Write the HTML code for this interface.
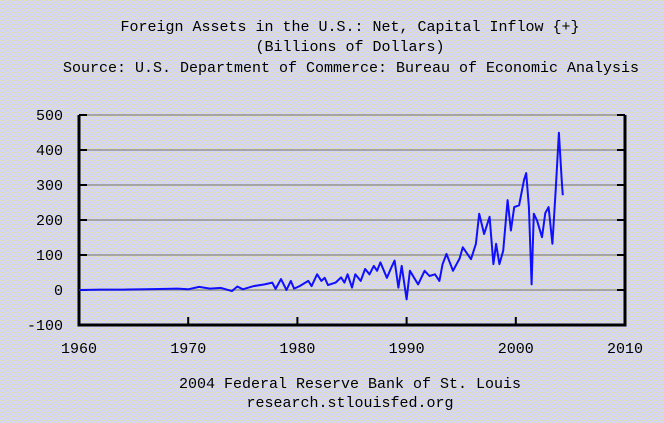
<!DOCTYPE html>
<html><head><meta charset="utf-8"><style>
body{margin:0;background:#d8d8ea}
svg{display:block;font-family:"Liberation Mono",monospace}
</style></head><body>
<svg width="664" height="423" viewBox="0 0 664 423">
<defs>
<pattern id="nz" width="6" height="4" patternUnits="userSpaceOnUse">
<rect width="6" height="4" fill="#d4d4f4"/>
<rect x="0" y="0" width="3" height="1" fill="#e2e2b0"/>
<rect x="3" y="2" width="3" height="1" fill="#e2e2b0"/>
</pattern>
</defs>
<rect width="664" height="423" fill="url(#nz)"/>
<g font-size="15" fill="#000" text-anchor="middle">
<text x="350" y="31">Foreign Assets in the U.S.: Net, Capital Inflow {+}</text>
<text x="350" y="51">(Billions of Dollars)</text>
<text x="351" y="72">Source: U.S. Department of Commerce: Bureau of Economic Analysis</text>
</g>
<g id="grid"></g><g id="axes"></g><g id="series"></g>
<g font-size="15" fill="#000" text-anchor="middle">
<text x="350" y="388">2004 Federal Reserve Bank of St. Louis</text>
<text x="350" y="407">research.stlouisfed.org</text>
</g>
</svg>
<script>
const yTicks=[-100,0,100,200,300,400,500];
const xTicks=[1960,1970,1980,1990,2000,2010];
const dates=[1960,1962,1964,1966,1968,1969,1970,1971,1972,1973,1974,1974.5,1975,1976,1977,1977.7,1978,1978.5,1979,1979.4,1979.7,1980.2,1981,1981.3,1981.8,1982.2,1982.5,1982.8,1983.5,1984,1984.3,1984.6,1985,1985.3,1985.8,1986.2,1986.6,1987,1987.3,1987.6,1988.2,1988.6,1988.9,1989.25,1989.55,1990,1990.3,1991.05,1991.65,1992.1,1992.6,1993,1993.3,1993.65,1994.25,1994.85,1995.15,1995.9,1996.35,1996.65,1997.1,1997.6,1997.95,1998.2,1998.5,1998.85,1999.25,1999.55,1999.85,2000.3,2000.75,2000.95,2001.2,2001.45,2001.65,2001.95,2002.4,2002.7,2003,2003.35,2003.65,2003.95,2004.2,2004.3];
const values=[0,1,1,2,3,4,2,9,4,6,-3,10,2,11,16,21,3,31,0,26,4,11,26,11,45,26,35,14,21,36,21,45,7,45,26,60,45,69,55,79,35,64,84,7,69,-27,55,16,55,40,45,26,74,103,55,90,122,88,132,218,160,209,74,132,74,112,257,170,237,242,314,334,237,16,218,198,151,220,237,132,286,449,314,271];
const L=79,R=625,T=115,B=325;
function xs(v){return L+(v-1960)/50*(R-L);}
function ys(v){return B-(v+100)/600*(B-T);}
const NS="http://www.w3.org/2000/svg";
function mk(t,a,p){const e=document.createElementNS(NS,t);for(const k in a)e.setAttribute(k,a[k]);p.appendChild(e);return e;}
const grid=document.getElementById('grid'),axes=document.getElementById('axes'),ser=document.getElementById('series');
yTicks.forEach(v=>{
 if(v>-100){const g=mk('line',{x1:L,x2:R,y1:ys(v),y2:ys(v),stroke:'#a4a4a4','stroke-width':2},grid);
 
 }
 const t=mk('line',{x1:L,x2:L+8,y1:ys(v),y2:ys(v),stroke:'#000','stroke-width':2},axes);
 
 
 const t2=mk('line',{x1:R-8,x2:R,y1:ys(v),y2:ys(v),stroke:'#000','stroke-width':2},axes);
 
 
 const lb=mk('text',{x:63,y:ys(v)+5,'text-anchor':'end','font-size':15},axes);
 lb.textContent=v;
 
 
});
xTicks.forEach(v=>{
 const t=mk('line',{x1:xs(v),x2:xs(v),y1:B,y2:B-8,stroke:'#000','stroke-width':2},axes);
 
 
 const lb=mk('text',{x:xs(v),y:B+28,'text-anchor':'middle','font-size':15},axes);
 lb.textContent=v;
 
 
});
const ax=mk('path',{d:`M${L},${T} V${B} H${R} V${T}`,fill:'none',stroke:'#000','stroke-width':3},axes);


const pts=dates.map((d,i)=>xs(d).toFixed(1)+','+ys(values[i]).toFixed(1)).join(' ');
const pl=mk('polyline',{points:pts,fill:'none',stroke:'#1010ff','stroke-width':2,'stroke-linejoin':'round'},ser);


</script>
</body></html>
